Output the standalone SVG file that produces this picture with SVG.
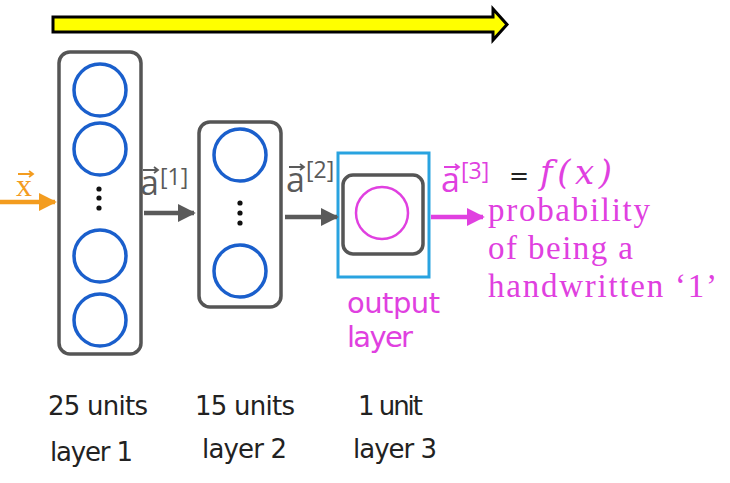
<svg xmlns="http://www.w3.org/2000/svg" width="730" height="483" viewBox="0 0 730 483">
<style>
.box{fill:none;stroke:#555;stroke-width:3.5}
.unit{fill:none;stroke:#1a5fcc;stroke-width:3.5}
.dot{fill:#111}
.lbl{font-family:"DejaVu Sans",Verdana,sans-serif;font-size:26px;fill:#222}
.out{font-family:"DejaVu Sans",Verdana,sans-serif;font-size:29px;fill:#e040e0}
.vec{font-family:"Open Sans","Noto Sans",sans-serif;font-size:34px}
.sup{font-family:"Open Sans","Noto Sans",sans-serif;font-size:23px}
.mag{fill:#e040e0}
.gry{fill:#5a5a5a}
.desc{font-family:"Liberation Serif","DejaVu Serif",serif;font-size:33px;fill:#e040e0}
</style>
<defs>
<marker id="hg" viewBox="0 0 10 10" refX="9" refY="5" markerWidth="4" markerHeight="4" orient="auto"><path d="M0,0 L10,5 L0,10 z" fill="#5a5a5a"/></marker>
<marker id="hm" viewBox="0 0 10 10" refX="9" refY="5" markerWidth="4" markerHeight="4" orient="auto"><path d="M0,0 L10,5 L0,10 z" fill="#e040e0"/></marker>
<marker id="ho" viewBox="0 0 10 10" refX="9" refY="5" markerWidth="4" markerHeight="4" orient="auto"><path d="M0,0 L10,5 L0,10 z" fill="#f39c1f"/></marker>
</defs>
<rect width="730" height="483" fill="#fff"/>
<path id="progress" d="M53,17 H493 V9 L507,24.5 L493,40 V32 H53 Z" fill="#ffff00" stroke="#000" stroke-width="3" stroke-linejoin="miter"/>
<g id="layer1">
<rect class="box" x="59" y="52" width="82" height="302" rx="11"/>
<circle class="unit" cx="100" cy="90" r="26"/>
<circle class="unit" cx="100" cy="149" r="26"/>
<circle class="dot" cx="99" cy="189" r="2.6"/>
<circle class="dot" cx="99" cy="198" r="2.6"/>
<circle class="dot" cx="99" cy="208" r="2.6"/>
<circle class="unit" cx="100" cy="256" r="26"/>
<circle class="unit" cx="100" cy="320" r="26"/>
</g>
<g id="layer2">
<rect class="box" x="199" y="122" width="82" height="185" rx="11"/>
<circle class="unit" cx="240" cy="155" r="26"/>
<circle class="dot" cx="240" cy="203" r="2.6"/>
<circle class="dot" cx="240" cy="213" r="2.6"/>
<circle class="dot" cx="240" cy="223" r="2.6"/>
<circle class="unit" cx="240" cy="271" r="26"/>
</g>
<g id="layer3">
<rect x="338" y="153" width="91" height="124" fill="none" stroke="#29a3e0" stroke-width="3"/>
<rect class="box" x="343" y="175" width="80" height="79" rx="10"/>
<circle cx="382" cy="213" r="26" fill="none" stroke="#e040e0" stroke-width="2.5"/>
</g>
<g id="connectors">
<line x1="0" y1="202" x2="55" y2="202" stroke="#f39c1f" stroke-width="4.5" marker-end="url(#ho)"/>
<line x1="144" y1="213" x2="194" y2="213" stroke="#5a5a5a" stroke-width="4.5" marker-end="url(#hg)"/>
<line x1="285" y1="217" x2="337" y2="217" stroke="#5a5a5a" stroke-width="4.5" marker-end="url(#hg)"/>
<line x1="431" y1="217" x2="483" y2="217" stroke="#e040e0" stroke-width="4.5" marker-end="url(#hm)"/>
</g>
<g id="x-label">
<text x="16" y="196" font-family="Liberation Serif,serif" font-size="32" fill="#f39c1f">x</text>
<path d="M18,174 H33 M29,171 L33,174 L29,177" fill="none" stroke="#f39c1f" stroke-width="1.8"/>
</g>
<g id="a1-label">
<text class="vec gry" x="140" y="195">a</text>
<path d="M143,170 H158 M154,167 L158,170 L154,173" fill="none" stroke="#5a5a5a" stroke-width="1.8"/>
<text class="sup gry" x="160" y="185">[1]</text>
</g>
<g id="a2-label">
<text class="vec gry" x="286" y="192">a</text>
<path d="M289,167 H304 M300,164 L304,167 L300,170" fill="none" stroke="#5a5a5a" stroke-width="1.8"/>
<text class="sup gry" x="306" y="178">[2]</text>
</g>
<g id="a3-label">
<text class="vec mag" x="441" y="192">a</text>
<path d="M444,167 H459 M455,164 L459,167 L455,170" fill="none" stroke="#e040e0" stroke-width="1.8"/>
<text class="sup mag" x="461" y="179">[3]</text>
<text x="509" y="184" font-family="DejaVu Sans,sans-serif" font-size="24" fill="#222">=</text>
<text x="540" y="184" font-family="DejaVu Serif,serif" font-style="italic" font-size="34" fill="#e040e0" textLength="72">f(x)</text>
</g>
<g id="description">
<text class="desc" x="488" y="221" textLength="162">probability</text>
<text class="desc" x="488" y="259" textLength="145">of being a</text>
<text class="desc" x="488" y="297" textLength="229">handwritten ‘1’</text>
</g>
<g id="output-label">
<text class="out" x="347" y="313" textLength="93">output</text>
<text class="out" x="347" y="347" textLength="66">layer</text>
</g>
<g id="bottom-labels">
<text class="lbl" x="48" y="415" textLength="100">25 units</text>
<text class="lbl" x="195" y="415" textLength="100">15 units</text>
<text class="lbl" x="358" y="415" textLength="65">1 unit</text>
<text class="lbl" x="50" y="461" textLength="83">layer 1</text>
<text class="lbl" x="202" y="458" textLength="85">layer 2</text>
<text class="lbl" x="353" y="458" textLength="84">layer 3</text>
</g>
</svg>
